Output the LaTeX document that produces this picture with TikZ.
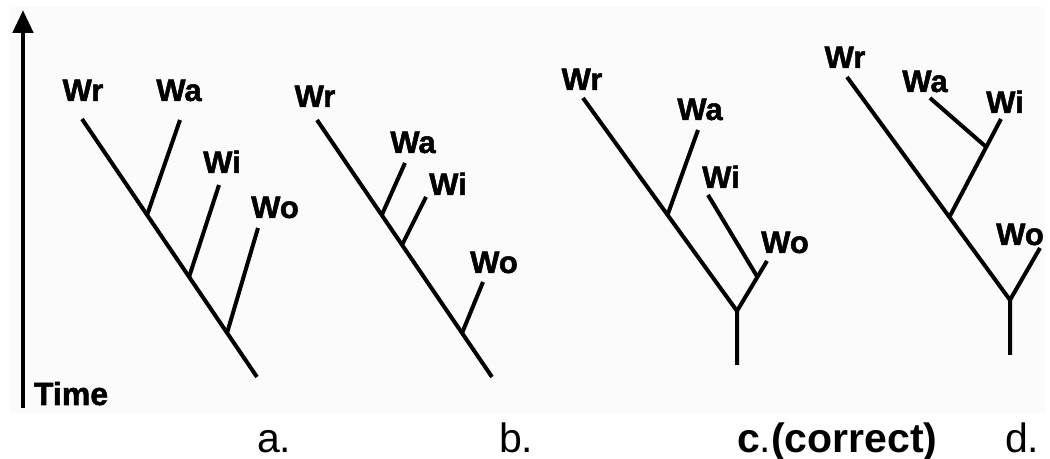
\documentclass[tikz,border=0pt]{standalone}
\usepackage{fontspec}
\setmainfont{Liberation Sans}
\newfontfamily\heavyfont{Liberation Sans Bold}[FakeBold=1.6]
\usetikzlibrary{positioning,calc,arrows.meta}
\definecolor{panelgray}{RGB}{251,251,251}
\tikzset{
	leaf/.style = {font=\heavyfont\fontsize{15.5}{15.5}\selectfont, anchor=base, inner sep=0pt},
	capt/.style = {font=\fontsize{20.5}{21}\selectfont, anchor=base west, inner sep=0pt},
	branch/.style = {line width=2pt}}

\begin{document}
\begin{tikzpicture}[x=0.5pt, y=-0.5pt, line width=2pt]
\useasboundingbox (0,0) rectangle (1050,459);
\fill [panelgray] (10,7) rectangle (1045,413);

% NODES
% time axis
\coordinate (tbot) at (23,408);
\coordinate (ttop) at (23,10);
\node (time) [anchor=base west, inner sep=0pt, font=\heavyfont\fontsize{16}{16}\selectfont] at (32,405) {Time};
% tree a
\node (awr) [leaf] at (83,101) {Wr};
\node (awa) [leaf] at (179,101) {Wa};
\node (awi) [leaf] at (222,173) {Wi};
\node (awo) [leaf] at (275,218) {Wo};
\coordinate (a-top) at (82,119);
\coordinate (a-end) at (257,377);
\coordinate (a-wa) at (180,120);
\coordinate (a-wi) at (219,185);
\coordinate (a-wo) at (258,228);
\coordinate (a-j1) at ($(a-top)!0.372!(a-end)$);
\coordinate (a-j2) at ($(a-top)!0.612!(a-end)$);
\coordinate (a-j3) at ($(a-top)!0.829!(a-end)$);
% tree b
\node (bwr) [leaf] at (315,107) {Wr};
\node (bwa) [leaf] at (413,153) {Wa};
\node (bwi) [leaf] at (448,195) {Wi};
\node (bwo) [leaf] at (494,273) {Wo};
\coordinate (b-top) at (317,120);
\coordinate (b-end) at (492,377);
\coordinate (b-wa) at (405,163);
\coordinate (b-wi) at (426,197);
\coordinate (b-wo) at (483,282);
\coordinate (b-j1) at ($(b-top)!0.370!(b-end)$);
\coordinate (b-j2) at ($(b-top)!0.486!(b-end)$);
\coordinate (b-j3) at ($(b-top)!0.829!(b-end)$);
% tree c
\node (cwr) [leaf] at (582,90) {Wr};
\node (cwa) [leaf] at (700,120) {Wa};
\node (cwi) [leaf] at (721,188) {Wi};
\node (cwo) [leaf] at (785,253) {Wo};
\coordinate (c-top) at (583,98);
\coordinate (c-root) at (737,311);
\coordinate (c-bot) at (737,365);
\coordinate (c-wa) at (698,130);
\coordinate (c-wi) at (708,195);
\coordinate (c-wo) at (767,261);
\coordinate (c-j1) at ($(c-top)!0.549!(c-root)$);
\coordinate (c-j2) at ($(c-wo)!0.32!(c-root)$);
% tree d
\node (dwr) [leaf] at (845,68) {Wr};
\node (dwa) [leaf] at (925,92) {Wa};
\node (dwi) [leaf] at (1005,113) {Wi};
\node (dwo) [leaf] at (1020,245) {Wo};
\coordinate (d-top) at (847,77);
\coordinate (d-root) at (1010,300);
\coordinate (d-bot) at (1010,355);
\coordinate (d-wa) at (930,98);
\coordinate (d-wi) at (1001,119);
\coordinate (d-wo) at (1040,248);
\coordinate (d-j1) at ($(d-top)!0.628!(d-root)$);
\coordinate (d-j2) at ($(d-j1)!0.714!(d-wi)$);
% captions
\node (capa) [capt] at (255,453) {a.};
\node (capb) [capt] at (497,453) {b.};
\node (capc) [capt] at (735,453) {\textbf{c}.\textbf{(correct)}};
\node (capd) [capt] at (1003,453) {d.};

%CONNECTIONS
\draw [-{Triangle[width=10pt, length=11.5pt]}, line width=2.4pt] (tbot) -- (ttop);
\draw [branch] (a-top) -- (a-end);
\draw [branch] (a-wa) -- (a-j1);
\draw [branch] (a-wi) -- (a-j2);
\draw [branch] (a-wo) -- (a-j3);
\draw [branch] (b-top) -- (b-end);
\draw [branch] (b-wa) -- (b-j1);
\draw [branch] (b-wi) -- (b-j2);
\draw [branch] (b-wo) -- (b-j3);
\draw [branch] (c-top) -- (c-root) -- (c-bot);
\draw [branch] (c-wo) -- (c-root);
\draw [branch] (c-wa) -- (c-j1);
\draw [branch] (c-wi) -- (c-j2);
\draw [branch] (d-top) -- (d-root) -- (d-bot);
\draw [branch] (d-wo) -- (d-root);
\draw [branch] (d-wi) -- (d-j1);
\draw [branch] (d-wa) -- (d-j2);

\end{tikzpicture}
\end{document}
